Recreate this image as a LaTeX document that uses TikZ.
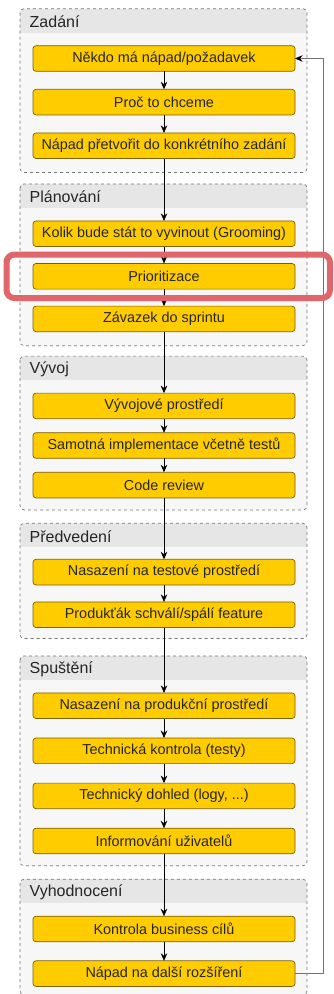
\documentclass[tikz,border=0pt]{standalone}
\usepackage{fontspec}
\setmainfont{Liberation Sans}
\usepackage{tikz}
\usetikzlibrary{arrows.meta,backgrounds,calc,positioning}
\definecolor{taskFill}{HTML}{FFCC00}
\definecolor{taskLine}{HTML}{7A5F00}
\definecolor{phaseFill}{HTML}{F7F7F7}
\definecolor{phaseHead}{HTML}{E6E6E6}
\definecolor{phaseLine}{HTML}{777777}
\definecolor{markRed}{HTML}{E0666B}
\tikzstyle{task}=[rectangle,rounded corners=3pt,draw=taskLine,fill=taskFill,line width=0.7pt,minimum width=262pt,minimum height=25.6pt,inner sep=0pt,outer sep=0pt,text=black!85,font=\fontsize{14.4}{16}\selectfont]
\tikzstyle{phase}=[draw=phaseLine,dashed,rounded corners=4pt,line width=0.7pt]
\tikzstyle{phase head}=[fill=phaseHead]
\tikzstyle{phase title}=[anchor=west,inner sep=0pt,text=black!85,font=\fontsize{16}{18}\selectfont]
\tikzstyle{flow}=[-{Stealth[length=7.5pt,width=6.5pt]},black,line width=0.6pt]
\tikzstyle{loop back}=[-{Stealth[length=7.5pt,width=6.5pt,black]},draw=black!55,line width=0.8pt]
\tikzstyle{highlight}=[draw=markRed,line width=6pt,rounded corners=8pt]

\begin{document}
\begin{tikzpicture}[x=1pt,y=1pt]
  \useasboundingbox (0,0) rectangle (334,-994);

  % Zadani
  \node[task] (zad1) at (164,-58.5) {Někdo má nápad/požadavek};
  \node[task, below = 18pt of zad1] (zad2) {Proč to chceme};
  \node[task, below = 18pt of zad2] (zad3) {Nápad přetvořit do konkrétního zadání};

  % Planovani
  \node[task, below = 62.4pt of zad3] (plan1) {Kolik bude stát to vyvinout (Grooming)};
  \node[task, below = 17pt of plan1] (plan2) {Prioritizace};
  \node[task, below = 17pt of plan2] (plan3) {Závazek do sprintu};

  % Vyvoj
  \node[task, below = 61.4pt of plan3] (vyv1) {Vývojové prostředí};
  \node[task, below = 14pt of vyv1] (vyv2) {Samotná implementace včetně testů};
  \node[task, below = 14pt of vyv2] (vyv3) {Code review};

  % Predvedeni
  \node[task, below = 61.4pt of vyv3] (pred1) {Nasazení na testové prostředí};
  \node[task, below = 17pt of pred1] (pred2) {Produkťák schválí/spálí feature};

  % Spusteni
  \node[task, below = 65.4pt of pred2] (spu1) {Nasazení na produkční prostředí};
  \node[task, below = 19.5pt of spu1] (spu2) {Technická kontrola (testy)};
  \node[task, below = 19.5pt of spu2] (spu3) {Technický dohled (logy, ...)};
  \node[task, below = 19.5pt of spu3] (spu4) {Informování uživatelů};

  % Vyhodnoceni
  \node[task, below = 62.4pt of spu4] (vyh1) {Kontrola business cílů};
  \node[task, below = 19pt of vyh1] (vyh2) {Nápad na další rozšíření};

  % Phase frames behind the tasks

  \begin{scope}[on background layer]
    \coordinate (zadNW) at ($(zad1.north west)+(-13,37)$);
    \coordinate (zadSE) at ($(zad3.south east)+(12,-14)$);
    \fill[phaseFill,rounded corners=4pt] (zadNW) rectangle (zadSE);
    \begin{scope}
      \clip[rounded corners=4pt] (zadNW) rectangle (zadSE);
      \fill[phase head] (zadNW) rectangle ($(zadNW -| zadSE)+(0,-24)$);
    \end{scope}
    \draw[phase] (zadNW) rectangle (zadSE);

    \coordinate (planNW) at ($(plan1.north west)+(-13,37)$);
    \coordinate (planSE) at ($(plan3.south east)+(12,-14)$);
    \fill[phaseFill,rounded corners=4pt] (planNW) rectangle (planSE);
    \begin{scope}
      \clip[rounded corners=4pt] (planNW) rectangle (planSE);
      \fill[phase head] (planNW) rectangle ($(planNW -| planSE)+(0,-24)$);
    \end{scope}
    \draw[phase] (planNW) rectangle (planSE);

    \coordinate (vyvNW) at ($(vyv1.north west)+(-13,37)$);
    \coordinate (vyvSE) at ($(vyv3.south east)+(12,-12)$);
    \fill[phaseFill,rounded corners=4pt] (vyvNW) rectangle (vyvSE);
    \begin{scope}
      \clip[rounded corners=4pt] (vyvNW) rectangle (vyvSE);
      \fill[phase head] (vyvNW) rectangle ($(vyvNW -| vyvSE)+(0,-24)$);
    \end{scope}
    \draw[phase] (vyvNW) rectangle (vyvSE);

    \coordinate (predNW) at ($(pred1.north west)+(-13,36)$);
    \coordinate (predSE) at ($(pred2.south east)+(12,-11)$);
    \fill[phaseFill,rounded corners=4pt] (predNW) rectangle (predSE);
    \begin{scope}
      \clip[rounded corners=4pt] (predNW) rectangle (predSE);
      \fill[phase head] (predNW) rectangle ($(predNW -| predSE)+(0,-24)$);
    \end{scope}
    \draw[phase] (predNW) rectangle (predSE);

    \coordinate (spuNW) at ($(spu1.north west)+(-13,37)$);
    \coordinate (spuSE) at ($(spu4.south east)+(12,-12)$);
    \fill[phaseFill,rounded corners=4pt] (spuNW) rectangle (spuSE);
    \begin{scope}
      \clip[rounded corners=4pt] (spuNW) rectangle (spuSE);
      \fill[phase head] (spuNW) rectangle ($(spuNW -| spuSE)+(0,-24)$);
    \end{scope}
    \draw[phase] (spuNW) rectangle (spuSE);

    \coordinate (vyhNW) at ($(vyh1.north west)+(-13,37)$);
    \coordinate (vyhSE) at ($(vyh2.south east)+(12,-8.5)$);
    \fill[phaseFill,rounded corners=4pt] (vyhNW) rectangle (vyhSE);
    \begin{scope}
      \clip[rounded corners=4pt] (vyhNW) rectangle (vyhSE);
      \fill[phase head] (vyhNW) rectangle ($(vyhNW -| vyhSE)+(0,-24)$);
    \end{scope}
    \draw[phase] (vyhNW) rectangle (vyhSE);
  \end{scope}

  % Phase titles

  \node[phase title] (zadTitle) at ($(zadNW)+(9.5,-13)$) {Zadání};
  \node[phase title] (planTitle) at ($(planNW)+(9.5,-13)$) {Plánování};
  \node[phase title] (vyvTitle) at ($(vyvNW)+(9.5,-13)$) {Vývoj};
  \node[phase title] (predTitle) at ($(predNW)+(9.5,-13)$) {Předvedení};
  \node[phase title] (spuTitle) at ($(spuNW)+(9.5,-13)$) {Spuštění};
  \node[phase title] (vyhTitle) at ($(vyhNW)+(9.5,-13)$) {Vyhodnocení};

  % Flow from task to task

  \draw[flow] (zad1) -- (zad2);
  \draw[flow] (zad2) -- (zad3);
  \draw[flow] (zad3) -- (plan1);
  \draw[flow] (plan1) -- (plan2);
  \draw[flow] (plan2) -- (plan3);
  \draw[flow] (plan3) -- (vyv1);
  \draw[flow] (vyv1) -- (vyv2);
  \draw[flow] (vyv2) -- (vyv3);
  \draw[flow] (vyv3) -- (pred1);
  \draw[flow] (pred1) -- (pred2);
  \draw[flow] (pred2) -- (spu1);
  \draw[flow] (spu1) -- (spu2);
  \draw[flow] (spu2) -- (spu3);
  \draw[flow] (spu3) -- (spu4);
  \draw[flow] (spu4) -- (vyh1);
  \draw[flow] (vyh1) -- (vyh2);

  % New idea goes back to the start
  \draw[loop back] (vyh2.east) -- ++(28,0) |- (zad1.east);

  % Highlighted task
  \draw[highlight]
  ($(plan2.north west)+(-26.5,9)$)
  rectangle
  ($(plan2.south east)+(35,-9)$);
\end{tikzpicture}
\end{document}
